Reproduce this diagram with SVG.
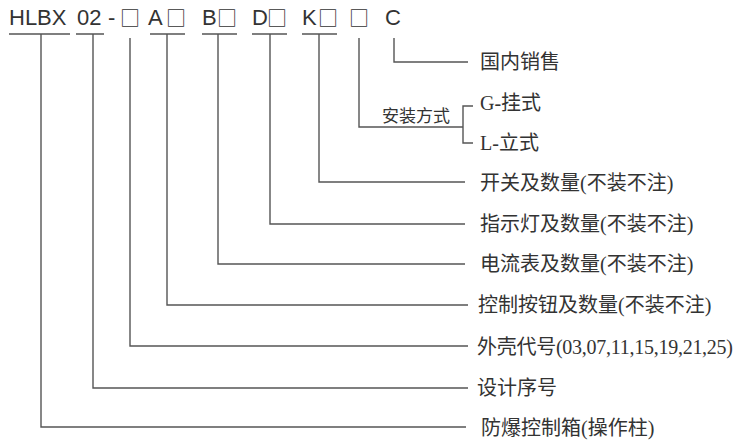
<svg xmlns="http://www.w3.org/2000/svg" width="745" height="441" viewBox="0 0 745 441">
<style>
.hd{font-family:"Liberation Sans","DejaVu Sans",sans-serif;font-size:22px;fill:#333}
.bx{font-family:"Noto Sans CJK SC","DejaVu Sans",sans-serif;font-size:20px;fill:#333}
.lb{font-family:"Liberation Serif","Noto Sans CJK SC",serif;font-size:20px;fill:#333}
.sm{font-family:"Liberation Serif","Noto Sans CJK SC",serif;font-size:17px;fill:#333}
.ln{fill:none;stroke:#555;stroke-width:1.4}
</style>
<rect width="745" height="441" fill="#fff"/>
<g id="header">
<text class="hd" x="9" y="25">HLBX</text>
<text class="hd" x="77" y="25">02</text>
<text class="hd" x="108" y="25">-</text>
<text class="bx" x="120" y="26">□</text>
<text class="hd" x="148" y="25">A</text>
<text class="bx" x="166" y="26">□</text>
<text class="hd" x="202" y="25">B</text>
<text class="bx" x="217" y="26">□</text>
<text class="hd" x="252" y="25">D</text>
<text class="bx" x="267" y="26">□</text>
<text class="hd" x="302" y="25">K</text>
<text class="bx" x="318" y="26">□</text>
<text class="bx" x="349" y="26">□</text>
<text class="hd" x="385" y="25">C</text>
</g>
<g id="connectors">
<path class="ln" d="M9 34H70M76 34H104M150 34H185M202 34H237M252 34H287M302 34H337"/>
<path class="ln" d="M41 34V427H466"/>
<path class="ln" d="M93 34V388H468"/>
<path class="ln" d="M130 38V346H468"/>
<path class="ln" d="M167 34V305H468"/>
<path class="ln" d="M218 34V264H465"/>
<path class="ln" d="M270 34V224H465"/>
<path class="ln" d="M319 34V182H465"/>
<path class="ln" d="M359 38V127H463"/>
<path class="ln" d="M473 106H463V143H473"/>
<path class="ln" d="M394 38V62H468"/>
</g>
<g id="n-c"><text class="lb" x="480" y="69">国内销售</text></g>
<g id="n-mount"><text class="sm" x="382" y="122">安装方式</text></g>
<g id="n-g"><text class="lb" x="480" y="110">G-挂式</text></g>
<g id="n-l"><text class="lb" x="480" y="150">L-立式</text></g>
<g id="n-k"><text class="lb" x="480" y="190">开关及数量(不装不注)</text></g>
<g id="n-d"><text class="lb" x="480" y="231">指示灯及数量(不装不注)</text></g>
<g id="n-b"><text class="lb" x="480" y="271">电流表及数量(不装不注)</text></g>
<g id="n-a"><text class="lb" x="478" y="312">控制按钮及数量(不装不注)</text></g>
<g id="n-shell"><text class="lb" x="477" y="354" textLength="256">外壳代号(03,07,11,15,19,21,25)</text></g>
<g id="n-design"><text class="lb" x="477" y="395">设计序号</text></g>
<g id="n-main"><text class="lb" x="481" y="435">防爆控制箱(操作柱)</text></g>
</svg>
